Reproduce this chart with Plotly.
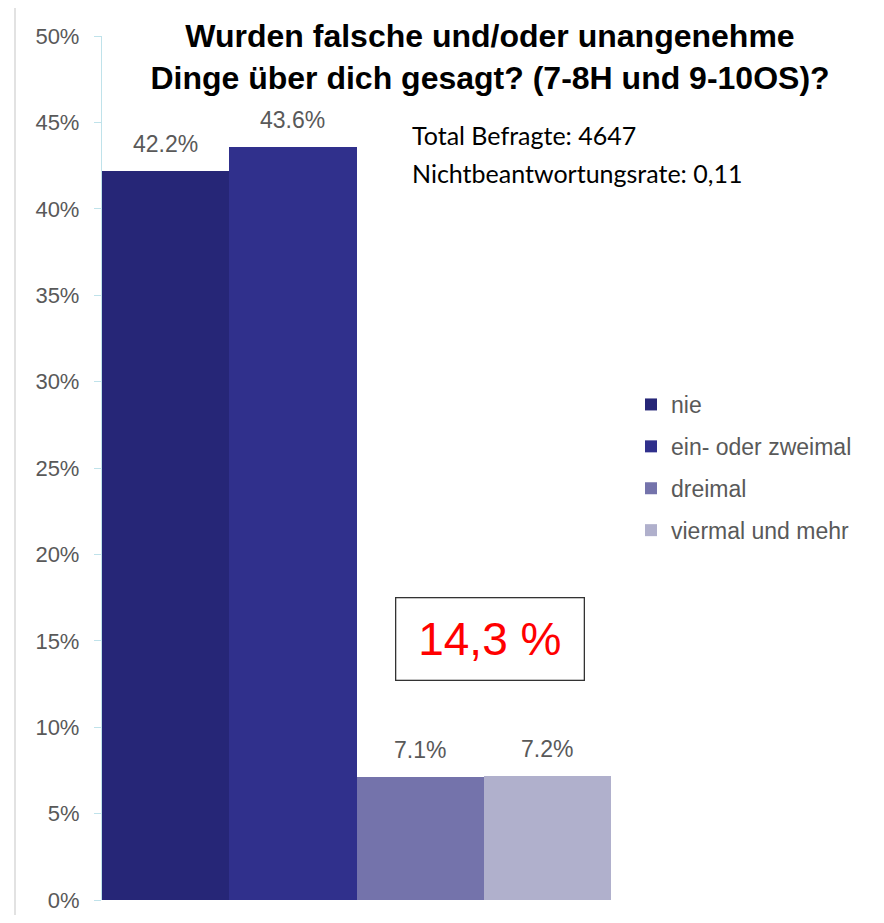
import plotly.graph_objects as go

series_names = ["nie", "ein- oder zweimal", "dreimal", "viermal und mehr"]
series_values = [42.2, 43.6, 7.1, 7.2]
series_colors = ["#262677", "#30308c", "#7473ab", "#b0b0cc"]
y_ticks = [0, 5, 10, 15, 20, 25, 30, 35, 40, 45, 50]
y_tick_labels = [f"{v}%" for v in y_ticks]

title_text = "Wurden falsche und/oder unangenehme<br>Dinge über dich gesagt? (7-8H und 9-10OS)?"
info_lines = ["Total Befragte: 4647", "Nichtbeantwortungsrate: 0,11"]
highlight_text = "14,3 %"

OFF = 8  # page body margin
W, H = 884 - 2 * OFF, 923 - 2 * OFF
# plot area in reference-page pixels
L, R, T, B = 102, 611, 36, 900
pw, ph = R - L, B - T

def px_x(x):
    return (x - L) / pw

def px_y(y):
    return (B - y) / ph

fig = go.Figure()
for name, val, col in zip(series_names, series_values, series_colors):
    fig.add_trace(go.Bar(
        x=[name], y=[val], name=name, legendgroup=name,
        marker=dict(color=col, line=dict(width=0)),
    ))
    fig.add_annotation(
        x=name, y=val, xref="x", yref="y", text=f"{val:.1f}%",
        showarrow=False, yanchor="bottom", yshift=12,
        font=dict(family="Liberation Sans, Arial", size=23, color="#595959"),
    )

fig.update_layout(
    width=W, height=H,
    margin=dict(l=L - OFF, r=W - (R - OFF), t=T - OFF, b=H - (B - OFF), pad=0, autoexpand=False),
    paper_bgcolor="white", plot_bgcolor="white",
    barmode="overlay", bargap=0,
    font=dict(family="Liberation Sans, Arial", color="#595959"),
    title=dict(
        text=title_text, xref="paper", x=px_x(490), xanchor="center",
        yref="container", y=1 - (47 - OFF) / H, yanchor="middle",
        font=dict(family="Liberation Sans, Arial", size=32, color="black", weight=700),
    ),
    showlegend=True,
    legend=dict(
        x=px_x(631), xanchor="left", y=px_y(383), yanchor="top",
        font=dict(family="Liberation Sans, Arial", size=23, color="#595959"),
        tracegroupgap=9, bgcolor="rgba(0,0,0,0)",
    ),
    xaxis=dict(showticklabels=False, showline=False, showgrid=False, zeroline=False,
               ticks="", automargin=False, categoryorder="array", categoryarray=series_names),
    yaxis=dict(
        range=[0, 50], tickmode="array", tickvals=y_ticks, ticktext=y_tick_labels,
        showgrid=False, zeroline=False, automargin=False,
        showline=True, linecolor="#bfe2ea", linewidth=1.3,
        ticks="outside", ticklen=7, tickcolor="#bfe2ea", tickwidth=1.3,
        tickfont=dict(family="Liberation Sans, Arial", size=22, color="#595959"),
        ticklabelstandoff=10,
    ),
)

for i, line in enumerate(info_lines):
    fig.add_annotation(
        text=line, xref="paper", yref="paper",
        x=px_x(410), y=px_y(135 + 38 * i), xanchor="left", yanchor="middle",
        showarrow=False,
        font=dict(family="Lato, Open Sans", size=25, color="black"),
    )

fig.add_annotation(
    text=highlight_text, xref="paper", yref="paper",
    x=px_x(489.5), y=px_y(638.5), xanchor="center", yanchor="middle",
    showarrow=False, width=185, height=79,
    bordercolor="#333333", borderwidth=1.3, borderpad=1, bgcolor="white",
    font=dict(family="Liberation Sans, Arial", size=46, color="#ff0000"),
)

fig.add_shape(
    type="rect", xref="paper", yref="paper", layer="below",
    x0=px_x(15), x1=px_x(900), y0=px_y(940), y1=px_y(7),
    line=dict(color="#d9d9d9", width=1.5), fillcolor="rgba(0,0,0,0)",
)

fig.write_html("out.html")
